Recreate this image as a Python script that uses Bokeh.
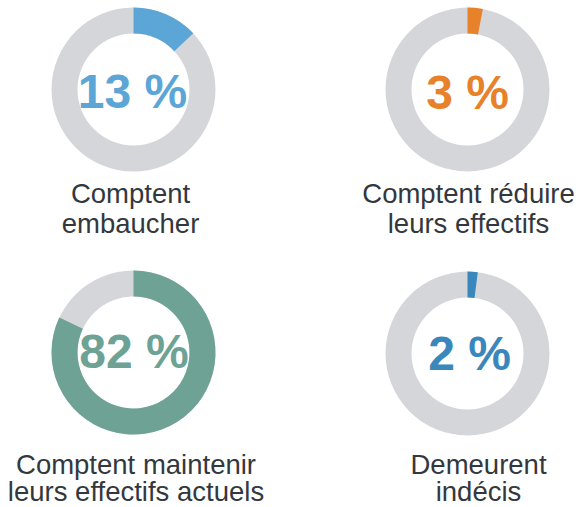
import math
from bokeh.plotting import figure
from bokeh.models import Range1d, ColumnDataSource
from bokeh.core.properties import value
from bokeh.embed import file_html
from bokeh.resources import INLINE

# ---- data ----
categories = ["Comptent embaucher", "Comptent réduire leurs effectifs",
              "Comptent maintenir leurs effectifs actuels", "Demeurent indécis"]
values = [13, 3, 82, 2]
label_line1 = ["Comptent", "Comptent réduire", "Comptent maintenir", "Demeurent"]
label_line2 = ["embaucher", "leurs effectifs", "leurs effectifs actuels", "indécis"]
colors = ["#5BA6D6", "#E8822A", "#6DA294", "#3A87BC"]
track_color = "#D5D6DA"
text_color = "#33383E"

# ---- layout (window pixel positions) ----
WIN_W, WIN_H = 581, 507
cx = [133, 467, 133, 467]
cy = [89, 89, 352, 353]
pct_x = [132, 467, 133.5, 469]
pct_mid = [91, 92, 351, 353]
lab_x = [130, 468, 135.5, 478]
lab_mid1 = [193, 193, 463.5, 463.5]
lab_mid2 = [222.5, 222.5, 491, 491]

def fy(ys):
    return [WIN_H - y for y in ys]

p = figure(width=WIN_W, height=WIN_H, x_range=Range1d(0, WIN_W), y_range=Range1d(0, WIN_H),
           output_backend="svg", toolbar_location=None, min_border=0)
p.axis.visible = False
p.grid.visible = False
p.outline_line_color = None
p.background_fill_color = "white"
p.border_fill_color = "white"

src = ColumnDataSource(dict(
    x=cx, y=fy(cy),
    start=[math.pi / 2] * len(values),
    end=[math.pi / 2 - 2 * math.pi * v / 100 for v in values],
    color=colors,
))

p.annulus(x="x", y="y", inner_radius=56, outer_radius=82,
          inner_radius_units="screen", outer_radius_units="screen",
          fill_color=track_color, line_color=None, source=src)
p.annular_wedge(x="x", y="y", inner_radius=56, outer_radius=82,
                inner_radius_units="screen", outer_radius_units="screen",
                start_angle="start", end_angle="end", direction="clock",
                fill_color="color", line_color=None, source=src)

psrc = ColumnDataSource(dict(x=pct_x, y=fy(pct_mid),
                             t=[f"{v} %" for v in values], color=colors))
p.text(x="x", y="y", text="t", source=psrc, text_color="color",
       text_font=value("Liberation Sans"), text_font_style="bold",
       text_font_size=value("48px"), text_align="center", text_baseline="middle")

lsrc = ColumnDataSource(dict(x=lab_x + lab_x, y=fy(lab_mid1) + fy(lab_mid2),
                             t=label_line1 + label_line2))
p.text(x="x", y="y", text="t", source=lsrc, text_color=text_color,
       text_font=value("Liberation Sans"), text_font_size=value("27.5px"),
       text_align="center", text_baseline="middle")

open("out.html", "w").write(file_html(p, INLINE))
